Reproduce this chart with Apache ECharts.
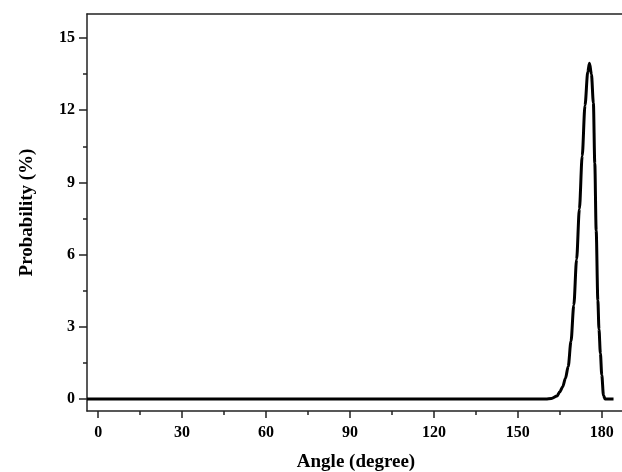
<!DOCTYPE html>
<html>
<head>
<meta charset="utf-8">
<script src="https://cdn.jsdelivr.net/npm/echarts@6/dist/echarts.min.js"></script>
<style>
  html, body { margin: 0; padding: 0; background: #fff; }
  #chart { width: 622px; height: 472px; }
</style>
</head>
<body>
<div id="chart"></div>
<script>
// angle distribution
const angles = [-4, 160, 162, 164, 165, 166, 167, 168, 169, 170, 171, 172, 173, 174, 175, 175.6, 176.3, 177, 177.5, 178, 178.6, 179, 179.5, 180, 180.6, 181.2, 184.2];
const probability = [0, 0, 0.02, 0.12, 0.3, 0.5, 0.85, 1.35, 2.4, 3.9, 5.8, 7.9, 10.1, 12.2, 13.6, 13.95, 13.5, 12.3, 9.8, 7.0, 4.1, 2.9, 1.9, 1.0, 0.15, 0, 0];

const xTicks = [0, 30, 60, 90, 120, 150, 180];
const xMinorTicks = [15, 45, 75, 105, 135, 165];
const yTicks = [0, 3, 6, 9, 12, 15];
const yMinorTicks = [1.5, 4.5, 7.5, 10.5, 13.5];

const font = 'Liberation Serif';
const axisColor = '#222';

const chart = echarts.init(document.getElementById('chart'));

const xBase = { type: 'value', min: -4, max: 188.3, splitLine: { show: false } };
const yBase = { type: 'value', min: -0.5, max: 16, splitLine: { show: false } };

chart.setOption({
  animation: false,
  grid: { left: 87, top: 14, right: -3, bottom: 61, outerBoundsMode: 'none' },
  xAxis: [
    {
      ...xBase,
      name: 'Angle (degree)',
      nameLocation: 'middle',
      nameGap: 42,
      nameTextStyle: { fontFamily: font, fontWeight: 'bold', fontSize: 19, color: '#000' },
      axisLine: { onZero: false, lineStyle: { color: axisColor, width: 1.5 } },
      axisTick: { customValues: xTicks, length: 7, lineStyle: { color: axisColor, width: 1.5 } },
      axisLabel: { customValues: xTicks, margin: 14, fontFamily: font, fontWeight: 'bold', fontSize: 16, color: '#000' }
    },
    {
      // minor ticks
      ...xBase,
      position: 'bottom',
      axisLine: { show: false, onZero: false },
      axisTick: { customValues: xMinorTicks, length: 4, lineStyle: { color: axisColor, width: 1.5 } },
      axisLabel: { show: false }
    },
    {
      // top frame line
      ...xBase,
      position: 'top',
      axisLine: { onZero: false, lineStyle: { color: axisColor, width: 1.5 } },
      axisTick: { show: false },
      axisLabel: { show: false }
    }
  ],
  yAxis: [
    {
      ...yBase,
      name: 'Probability (%)',
      nameLocation: 'middle',
      nameGap: 50,
      nameTextStyle: { fontFamily: font, fontWeight: 'bold', fontSize: 19, color: '#000' },
      axisLine: { onZero: false, lineStyle: { color: axisColor, width: 1.5 } },
      axisTick: { customValues: yTicks, length: 8, lineStyle: { color: axisColor, width: 1.5 } },
      axisLabel: { customValues: yTicks, margin: 12, fontFamily: font, fontWeight: 'bold', fontSize: 16, color: '#000' }
    },
    {
      ...yBase,
      position: 'left',
      axisLine: { show: false, onZero: false },
      axisTick: { customValues: yMinorTicks, length: 4, lineStyle: { color: axisColor, width: 1.5 } },
      axisLabel: { show: false }
    }
  ],
  series: [
    {
      type: 'line',
      data: angles.map((a, i) => [a, probability[i]]),
      smooth: 0.3,
      smoothMonotone: 'x',
      showSymbol: false,
      lineStyle: { color: '#000', width: 3 }
    }
  ]
});
</script>
</body>
</html>
